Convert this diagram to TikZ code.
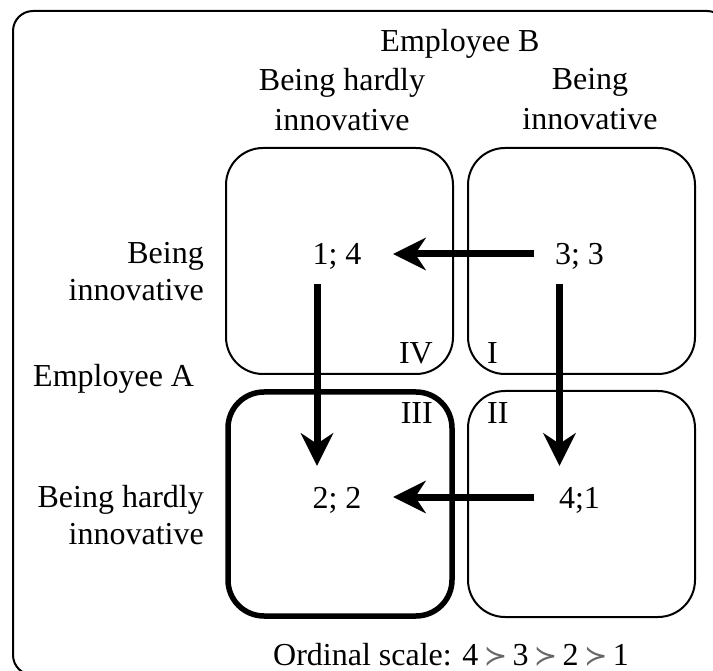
\documentclass[tikz,border=0pt]{standalone}
\usepackage{fontspec}
\setmainfont{Liberation Serif}
\newfontfamily\symfont{DejaVu Sans}
\usepackage{xcolor}
\usepackage{tikz}
\usetikzlibrary{arrows.meta}
\definecolor{ink}{HTML}{000000}
\definecolor{paper}{HTML}{FFFFFF}
\definecolor{rel}{HTML}{666666}
\tikzset{
  frame/.style={draw=ink, line width=2pt, rounded corners=20pt},
  cell/.style={draw=ink, line width=2pt, rounded corners=37pt},
  best/.style={draw=ink, line width=5.5pt, rounded corners=36pt},
  move/.style={draw=ink, line width=7pt, -{Stealth[length=33pt,width=33pt,inset=11pt,line width=0pt]}},
  lab/.style={text=ink, font=\fontsize{32}{37}\selectfont, inner sep=0pt},
  pay/.style={lab, anchor=base, text height=22pt, text depth=0pt, minimum width=50pt},
}
\newcommand{\pref}{\,{\symfont\color{rel}\fontsize{28}{37}\selectfont ≻}\,}

\begin{document}
\begin{tikzpicture}[x=1pt,y=-1pt]
  \useasboundingbox[fill=paper] (0,0) rectangle (713,671);
  \clip (0,0) rectangle (713,671);
  \draw[frame] (13,11) rectangle (727,675);
  \foreach \x/\y in {226/148,468/148,468/391}
    \draw[cell] (\x,\y) rectangle ++(227,226);
  \draw[best] (228,392) rectangle (452,616);
  \node[lab, anchor=base] (empB) at (460,52) {Employee B};
  \node[lab, align=center, anchor=north] (colH) at (342,68) {Being hardly\\[3pt]innovative};
  \node[lab, align=center, anchor=north] (colI) at (590,68) {Being\\[3pt]innovative};
  \node[lab, align=right, anchor=north east] (rowI) at (204,242) {Being\\innovative};
  \node[lab, anchor=base west] (empA) at (33,387) {Employee A};
  \node[lab, align=right, anchor=north east] (rowH) at (204,485) {Being hardly\\innovative};
  \node[pay] (p14) at (337,265) {1; 4};
  \node[pay] (p33) at (579.5,265) {3; 3};
  \node[pay] (p22) at (337,508) {2; 2};
  \node[pay] (p41) at (579.5,508) {4;1};
  \foreach \q/\pos/\x/\y in {IV/east/433/363, I/west/487/363, III/east/433/423, II/west/487/423}
    \node[lab, anchor=base \pos] (q\q) at (\x,\y) {\q};
  \foreach \a/\b in {p33/p14, p41/p22}
    \draw[move, shorten <=20pt, shorten >=31pt] (\a.west) -- (\b.east);
  \foreach \a/\b in {p14/p22, p33/p41}
    \draw[move, shorten <=19pt, shorten >=20pt] ([xshift=-20pt]\a.south) -- ([xshift=-20pt]\b.north);
  \node[lab, anchor=base] (scale) at (451,665) {Ordinal scale: 4\pref 3\pref 2\pref 1};
\end{tikzpicture}
\end{document}
